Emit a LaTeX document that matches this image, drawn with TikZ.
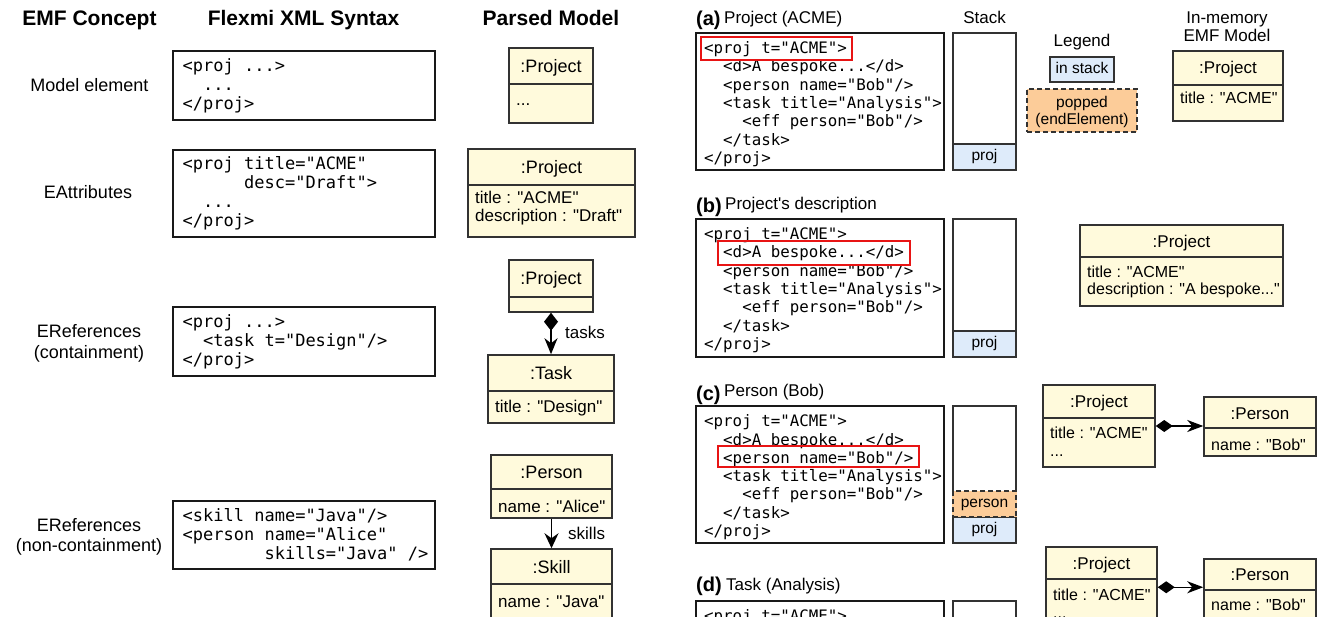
\documentclass[tikz,border=0pt]{standalone}
\usepackage{fontspec}
\setmainfont{Liberation Sans}[Ligatures=TeXOff]
\newfontfamily\codefont{DejaVu Sans Mono}[Ligatures=TeXOff]
\usetikzlibrary{arrows.meta}
\definecolor{umlfill}{RGB}{255,250,220}
\definecolor{umldraw}{RGB}{50,50,50}
\definecolor{stackblue}{RGB}{222,235,250}
\definecolor{poporange}{RGB}{252,204,153}
\definecolor{hlred}{RGB}{232,20,20}
\newcommand\RectNode[7]{%
  \node[#1, minimum width={(#5)-(#3)}, minimum height={(#6)-(#4)}] (#2) at ({((#3)+(#5))/2},{((#4)+(#6))/2}) {#7};}
\newcommand\UMLobj[6]{%
  \RectNode{umlbox}{#1}{#2}{#3}{#4}{#5}{}
  \draw[umlline] (#2,#6) -- (#4,#6);}
\tikzset{
  hdr/.style={anchor=base, inner sep=0pt, font=\fontsize{21}{25}\selectfont\bfseries},
  lbl/.style={anchor=base, inner sep=0pt, font=\fontsize{18}{21}\selectfont},
  rlbl/.style={anchor=base, inner sep=0pt, font=\fontsize{17}{20}\selectfont},
  plbl/.style={anchor=base west, inner sep=0pt, font=\fontsize{20}{22}\selectfont\bfseries},
  ptitle/.style={anchor=base west, inner sep=0pt, font=\fontsize{17}{20}\selectfont},
  lcode/.style={anchor=north west, inner sep=0pt, align=left, font=\codefont\fontsize{17}{19}\selectfont},
  rcode/.style={anchor=north west, inner sep=0pt, align=left, font=\codefont\fontsize{15.8}{18.3}\selectfont},
  codebox/.style={draw=black!90, line width=1.3pt, fill=white, inner sep=0pt},
  stackbox/.style={draw=umldraw, line width=1.3pt, fill=white, inner sep=0pt},
  cellblue/.style={draw=umldraw, line width=1.3pt, fill=stackblue, inner sep=0pt,
    font=\fontsize{15.5}{18}\selectfont, text height=11pt, text depth=3.3pt},
  cellpop/.style={draw=umldraw, line width=1.3pt, fill=poporange, inner sep=0pt,
    dash pattern=on 5pt off 3pt, font=\fontsize{15.5}{18}\selectfont, text height=11pt, text depth=3.3pt},
  umlbox/.style={draw=umldraw, fill=umlfill, line width=1.5pt, inner sep=0pt},
  umlline/.style={draw=umldraw, line width=1.5pt},
  umlhead/.style={anchor=base, inner sep=0pt, font=\fontsize{18}{21}\selectfont},
  umlattr/.style={anchor=base west, inner sep=0pt, font=\fontsize{17}{18}\selectfont},
  rhead/.style={anchor=base, inner sep=0pt, font=\fontsize{17}{20}\selectfont},
  rattr/.style={anchor=base west, inner sep=0pt, font=\fontsize{16}{18}\selectfont},
  hl/.style={draw=hlred, line width=2.8pt},
  assoc/.style={draw=black, line width=1.5pt},
  contain/.style={assoc, {Diamond[length=18pt,width=14pt]}-{Stealth[length=16pt,width=13pt,inset=5pt]}},
  rcontain/.style={assoc, {Diamond[length=17pt,width=12pt]}-{Stealth[length=16pt,width=12pt,inset=5pt]}},
  refarrow/.style={assoc, -{Stealth[length=15pt,width=14pt,inset=5pt]}},
}
\begin{document}
\begin{tikzpicture}[x=1pt,y=-1pt]
\clip (0,0) rectangle (1317,617);
\fill[white] (0,0) rectangle (1317,617);

% ---------- headers ----------
\node[hdr] (hConcept) at (89.5,26) {EMF Concept};
\node[hdr] (hSyntax) at (303.5,26) {Flexmi XML Syntax};
\node[hdr] (hModel) at (551,26) {Parsed Model};

% ---------- concept labels ----------
\node[lbl] (lModel) at (89.5,92) {Model element};
\node[lbl] (lAttr) at (88,199) {EAttributes};
\node[lbl] (lCont1) at (89,338) {EReferences};
\node[lbl] (lCont2) at (89,358.5) {(containment)};
\node[lbl] (lNon1) at (89,531.5) {EReferences};
\node[lbl] (lNon2) at (89,551.5) {(non-containment)};

% ---------- left code boxes ----------
\RectNode{codebox}{cbModel}{173}{51}{435}{120}{}
\node[lcode] (ctModel) at (182.5,57) {\rule{0pt}{14pt}<proj ...>\\~~...\\</proj>};
\RectNode{codebox}{cbAttr}{173}{150}{435}{237}{}
\node[lcode] (ctAttr) at (182.5,155) {\rule{0pt}{14pt}<proj title="ACME"\\~~~~~~desc="Draft">\\~~...\\</proj>};
\RectNode{codebox}{cbCont}{173}{307}{435}{376}{}
\node[lcode] (ctCont) at (182.5,313) {\rule{0pt}{14pt}<proj ...>\\~~<task t="Design"/>\\</proj>};
\RectNode{codebox}{cbNon}{173}{501}{435}{569}{}
\node[lcode] (ctNon) at (182.5,507) {\rule{0pt}{14pt}<skill name="Java"/>\\<person name="Alice"\\~~~~~~~~skills="Java"~/>};

% ---------- parsed model ----------
\UMLobj{pmP1}{509}{48}{593}{123}{84}
\node[umlhead] (pmP1h) at (551,72.5) {:Project};
\node[umlattr] (pmP1a) at (516,106) {...};

\UMLobj{pmP2}{468}{149}{635}{237}{185}
\node[umlhead] (pmP2h) at (551.5,173.5) {:Project};
\node[umlattr] (pmP2a) at (475,204) {title : "ACME"};
\node[umlattr] (pmP2b) at (475,222) {description : "Draft"};

\UMLobj{pmP3}{509}{260}{593}{312}{297}
\node[umlhead] (pmP3h) at (551,285) {:Project};

\UMLobj{pmTask}{488}{355}{614}{423}{391}
\node[umlhead] (pmTaskh) at (551,379.5) {:Task};
\node[umlattr] (pmTaska) at (495,412.5) {title : "Design"};

\draw[contain] (pmP3.south) -- (pmTask.north);
\node[umlattr] (lblTasks) at (565,338.5) {tasks};

\UMLobj{pmPerson}{491}{455}{612}{518}{489}
\node[umlhead] (pmPersonh) at (551.5,478.5) {:Person};
\node[umlattr] (pmPersona) at (498,512) {name : "Alice"};

\UMLobj{pmSkill}{491}{549}{612}{640}{584}
\node[umlhead] (pmSkillh) at (551.5,573.5) {:Skill};
\node[umlattr] (pmSkilla) at (498,607) {name : "Java"};

\draw[refarrow] (pmPerson.south) -- (pmSkill.north);
\node[umlattr] (lblSkills) at (568,539.5) {skills};

% ---------- right: titles ----------
\node[plbl] (labA) at (696,25.5) {(a)};
\node[ptitle] (titA) at (724,23.3) {Project (ACME)};
\node[rlbl] (labStack) at (984.5,23.3) {Stack};
\node[rlbl] (labLegend) at (1082,46.7) {Legend};
\node[rlbl] (labMem1) at (1227,23.3) {In-memory};
\node[rlbl] (labMem2) at (1227,41.7) {EMF Model};

% legend
\RectNode{cellblue}{legStack}{1050}{57}{1114}{82}{in stack}
\RectNode{cellpop}{legPop}{1027}{89}{1137}{132}{}
\node[rlbl, font=\fontsize{15.5}{18}\selectfont] (legPop1) at (1082,107.3) {popped};
\node[rlbl, font=\fontsize{15.5}{18}\selectfont] (legPop2) at (1082,125) {(endElement)};

% ---------- step (a) ----------
\RectNode{codebox}{cbA}{696}{33}{944}{170}{}
\node[rcode] (ctA) at (704,39.5) {\rule{0pt}{14pt}<proj t="ACME">\\~~<d>A bespoke...</d>\\~~<person name="Bob"/>\\~~<task title="Analysis">\\~~~~<eff person="Bob"/>\\~~</task>\\</proj>};
\draw[hl] (701,37) rectangle (852,60);
\RectNode{stackbox}{stA}{953}{33}{1016}{170}{}
\RectNode{cellblue}{stAproj}{953}{144}{1016}{170}{proj}
\UMLobj{rmA}{1173}{51}{1283}{121}{85}
\node[rhead] (rmAh) at (1228,74) {:Project};
\node[rattr] (rmAa) at (1180,104) {title : "ACME"};

% ---------- step (b) ----------
\node[plbl] (labB) at (696,212.5) {(b)};
\node[ptitle] (titB) at (725,209.3) {Project's description};
\RectNode{codebox}{cbB}{696}{219}{944}{357}{}
\node[rcode] (ctB) at (704,225.5) {\rule{0pt}{14pt}<proj t="ACME">\\~~<d>A bespoke...</d>\\~~<person name="Bob"/>\\~~<task title="Analysis">\\~~~~<eff person="Bob"/>\\~~</task>\\</proj>};
\draw[hl] (718,241) rectangle (910,265);
\RectNode{stackbox}{stB}{953}{219}{1016}{357}{}
\RectNode{cellblue}{stBproj}{953}{331}{1016}{357}{proj}
\UMLobj{rmB}{1080}{225}{1283}{306}{257}
\node[rhead] (rmBh) at (1181.5,247.3) {:Project};
\node[rattr] (rmBa) at (1087,277.3) {title : "ACME"};
\node[rattr] (rmBb) at (1087,295) {description : "A bespoke..."};

% ---------- step (c) ----------
\node[plbl] (labC) at (696,400) {(c)};
\node[ptitle] (titC) at (724,396.7) {Person (Bob)};
\RectNode{codebox}{cbC}{696}{406}{944}{543}{}
\node[rcode] (ctC) at (704,412.5) {\rule{0pt}{14pt}<proj t="ACME">\\~~<d>A bespoke...</d>\\~~<person name="Bob"/>\\~~<task title="Analysis">\\~~~~<eff person="Bob"/>\\~~</task>\\</proj>};
\draw[hl] (718,446) rectangle (919,467);
\RectNode{stackbox}{stC}{953}{406}{1016}{543}{}
\RectNode{cellblue}{stCproj}{953}{517}{1016}{543}{proj}
\fill[poporange] (952,491) rectangle (1017,517);
\RectNode{cellpop}{stCperson}{953}{491}{1016}{517}{person}
\UMLobj{rmCproj}{1043}{385}{1155}{467}{418}
\node[rhead] (rmCprojh) at (1099,407.7) {:Project};
\node[rattr] (rmCproja) at (1050,438.3) {title : "ACME"};
\node[rattr] (rmCprojb) at (1050,456.7) {...};
\UMLobj{rmCpers}{1204}{397}{1316}{456}{428}
\node[rhead] (rmCpersh) at (1260,419) {:Person};
\node[rattr] (rmCpersa) at (1211,450) {name : "Bob"};
\draw[rcontain] (rmCproj.east) -- (rmCproj.east -| rmCpers.west);

% ---------- step (d) ----------
\node[plbl] (labD) at (696,591.7) {(d)};
\node[ptitle] (titD) at (726,590.7) {Task (Analysis)};
\RectNode{codebox}{cbD}{696}{601}{944}{760}{}
\node[rcode] (ctD) at (704,607.5) {\rule{0pt}{14pt}<proj t="ACME">\\~~<d>A bespoke...</d>\\~~<person name="Bob"/>};
\RectNode{stackbox}{stD}{953}{601}{1016}{760}{}
\UMLobj{rmDproj}{1046}{547}{1157}{660}{579}
\node[rhead] (rmDprojh) at (1101.5,569.3) {:Project};
\node[rattr] (rmDproja) at (1053,600) {title : "ACME"};
\node[rattr] (rmDprojb) at (1053,618.5) {...};
\UMLobj{rmDpers}{1204}{559}{1316}{660}{590}
\node[rhead] (rmDpersh) at (1260,580.7) {:Person};
\node[rattr] (rmDpersa) at (1211,610.7) {name : "Bob"};
\draw[rcontain] ([yshift=-41pt]rmDproj.north east) -- ([yshift=-41pt]rmDproj.north east -| rmDpers.west);
\end{tikzpicture}
\end{document}
